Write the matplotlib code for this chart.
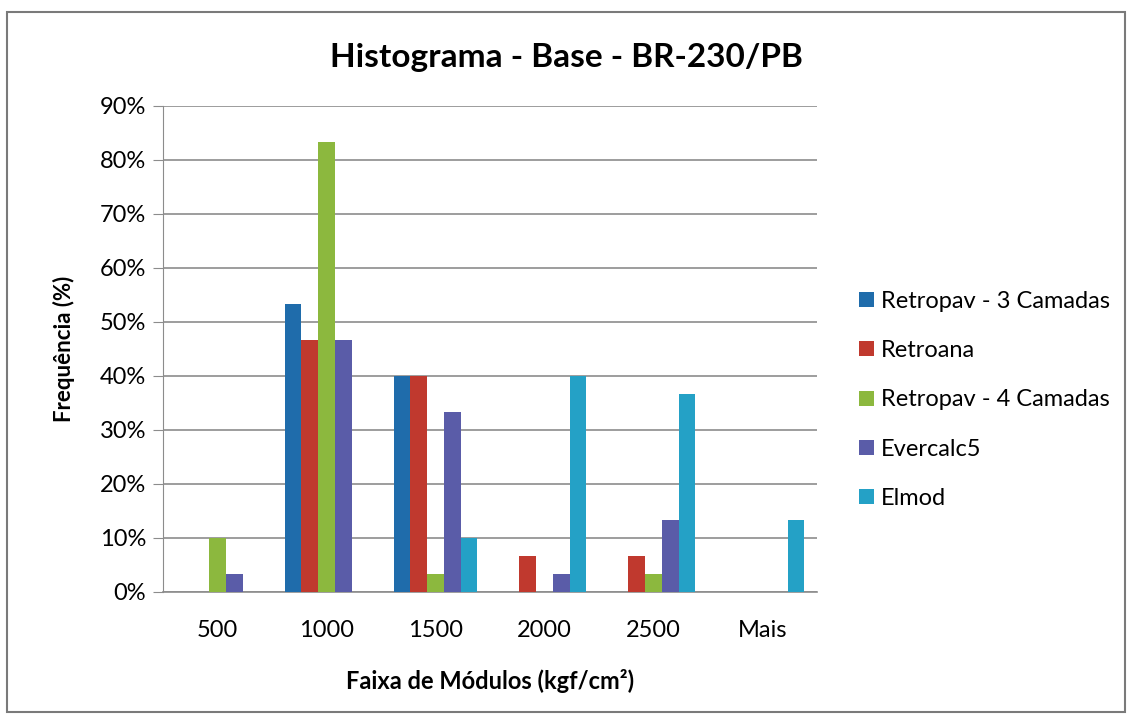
import numpy as np
import matplotlib
matplotlib.use("Agg")
import matplotlib.pyplot as plt
from matplotlib.patches import Rectangle
from matplotlib.ticker import PercentFormatter

plt.rcParams['font.family'] = ['Lato', 'DejaVu Sans']

# dados
faixas = ['500', '1000', '1500', '2000', '2500', 'Mais']
series = ['Retropav - 3 Camadas', 'Retroana', 'Retropav - 4 Camadas', 'Evercalc5', 'Elmod']
retropav3 = [0, 53.3, 40.0, 0, 0, 0]
retroana = [0, 46.7, 40.0, 6.7, 6.7, 0]
retropav4 = [10.0, 83.3, 3.3, 0, 3.3, 0]
evercalc5 = [3.3, 46.7, 33.3, 3.3, 13.3, 0]
elmod = [0, 0, 10.0, 40.0, 36.7, 13.3]
valores = [retropav3, retroana, retropav4, evercalc5, elmod]
cores = ['#1f6cab', '#c0392e', '#8cb83e', '#5a5ca8', '#24a1c6']

fig = plt.figure(figsize=(11.32, 7.2), dpi=100)
ax = fig.add_axes([163/1132, 1 - 592/720, 654/1132, 486/720])

x = np.arange(len(faixas))
w = 0.153
for i, (nome, v, c) in enumerate(zip(series, valores, cores)):
    ax.bar(x + (i - 2) * w, v, width=w, color=c, label=nome, zorder=3)

ax.set_xlim(-0.5, len(faixas) - 0.5)
ax.set_ylim(0, 90)
ax.set_yticks(np.arange(0, 91, 10))
ax.yaxis.set_major_formatter(PercentFormatter(decimals=0))
ax.set_xticks(x)
ax.set_xticklabels(faixas)
ax.grid(axis='y', color='#8c8c8c', linewidth=1.2, zorder=0)
for s in ['top', 'right']:
    ax.spines[s].set_visible(False)
ax.spines['left'].set_color('#8c8c8c')
ax.spines['bottom'].set_color('#8c8c8c')
ax.spines['bottom'].set_linewidth(1.2)
ax.tick_params(axis='y', length=7, color='#8c8c8c', labelsize=17, pad=5)
ax.tick_params(axis='x', length=0, labelsize=17, pad=20)

ax.set_xlabel('Faixa de Módulos (kgf/cm²)', fontsize=17, fontweight='bold', labelpad=20)
ax.set_ylabel('Frequência (%)', fontsize=16, fontweight='bold', labelpad=18)
fig.text(0.5, 1 - 58/720, 'Histograma - Base - BR-230/PB', ha='center', va='center',
         fontsize=24, fontweight='bold')

ax.legend(loc='center left', bbox_to_anchor=(850/1132, 1 - 400/720),
          bbox_transform=fig.transFigure, borderaxespad=0, frameon=False, fontsize=17,
          handlelength=0.6, handleheight=0.6, handletextpad=0.3, labelspacing=1.2)

fig.patches.append(Rectangle((7/1132, 8/720), 1118/1132, 700/720, transform=fig.transFigure,
                             fill=False, edgecolor='#7a7a7a', linewidth=1.5))

fig.savefig('out.png', dpi=100)
